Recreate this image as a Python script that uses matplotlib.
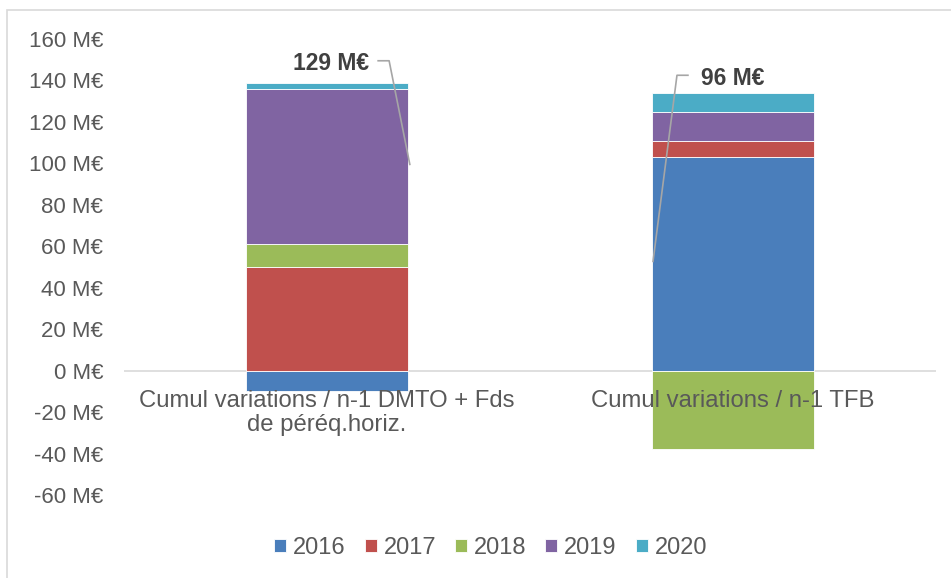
import matplotlib.pyplot as plt
from matplotlib.patches import Rectangle
import numpy as np

plt.rcParams['font.family'] = ['Liberation Sans', 'DejaVu Sans']

categories = ["Cumul variations / n-1 DMTO + Fds\nde péréq.horiz.", "Cumul variations / n-1 TFB"]
annees = ["2016", "2017", "2018", "2019", "2020"]
v2016 = [-10, 103]
v2017 = [50, 8]
v2018 = [11, -38]
v2019 = [75, 14]
v2020 = [3, 9]
series = [v2016, v2017, v2018, v2019, v2020]
couleurs = ["#4A7EBB", "#C0504D", "#9BBB59", "#8064A2", "#4BACC6"]
yticks = list(range(-60, 161, 20))

fig = plt.figure(figsize=(9.51, 5.78), dpi=100)
ax = fig.add_axes([124 / 951, 83 / 578, 812 / 951, 456 / 578])

x = np.arange(len(categories))
pos = np.zeros(len(categories))
neg = np.zeros(len(categories))
for nom, vals, c in zip(annees, series, couleurs):
    vals = np.array(vals, dtype=float)
    bas = np.where(vals >= 0, pos, neg)
    ax.bar(x, vals, 0.4, bottom=bas, color=c, label=nom,
           edgecolor="white", linewidth=0.6, zorder=2)
    pos = pos + np.where(vals >= 0, vals, 0)
    neg = neg + np.where(vals < 0, vals, 0)

totaux = np.sum(series, axis=0)

ax.axhline(0, color="#D9D9D9", linewidth=1.2, zorder=1)
ax.set_xlim(-0.5, 1.5)
ax.set_ylim(-60, 160)
ax.set_yticks(yticks)
ax.set_yticklabels([f"{v} M€" for v in yticks])
ax.tick_params(axis="y", length=0, pad=15, labelsize=16, labelcolor="#595959")
ax.set_xticks([])
for s in ax.spines.values():
    s.set_visible(False)

for xi, cat in zip(x, categories):
    ax.text(xi, -9.5, cat, ha="center", va="top", fontsize=17.2,
            color="#595959", linespacing=1.1, zorder=5)

# etiquettes des totaux avec lignes de rappel
etiq = [(0.01, 148.0), (1.0, 141.0)]
rappels = [([0.126, 0.153, 0.204], [149.5, 149.5, 99.5]),
           ([0.889, 0.862, 0.803], [142.5, 142.5, 52.7])]
for xi, t, (ex, ey), (lx, ly) in zip(x, totaux, etiq, rappels):
    ax.plot(lx, ly, color="#A6A6A6", linewidth=1.2, zorder=4)
    ax.text(ex, ey, f"{t:.0f} M€", ha="center", va="center", fontsize=16.5,
            fontweight="bold", color="#404040", zorder=5)

ax.legend(loc="center", bbox_to_anchor=(0.516, 0.052), bbox_transform=fig.transFigure,
          ncol=5, frameon=False, fontsize=17, labelcolor="#595959",
          handlelength=0.5, handleheight=0.5, handletextpad=0.3, columnspacing=0.8)

fig.patches.append(Rectangle((7 / 951, -0.1), 1.2, 1 - 10 / 578 + 0.1,
                             transform=fig.transFigure, fill=False,
                             edgecolor="#D9D9D9", linewidth=1.2))

fig.savefig("out.png", dpi=100)
